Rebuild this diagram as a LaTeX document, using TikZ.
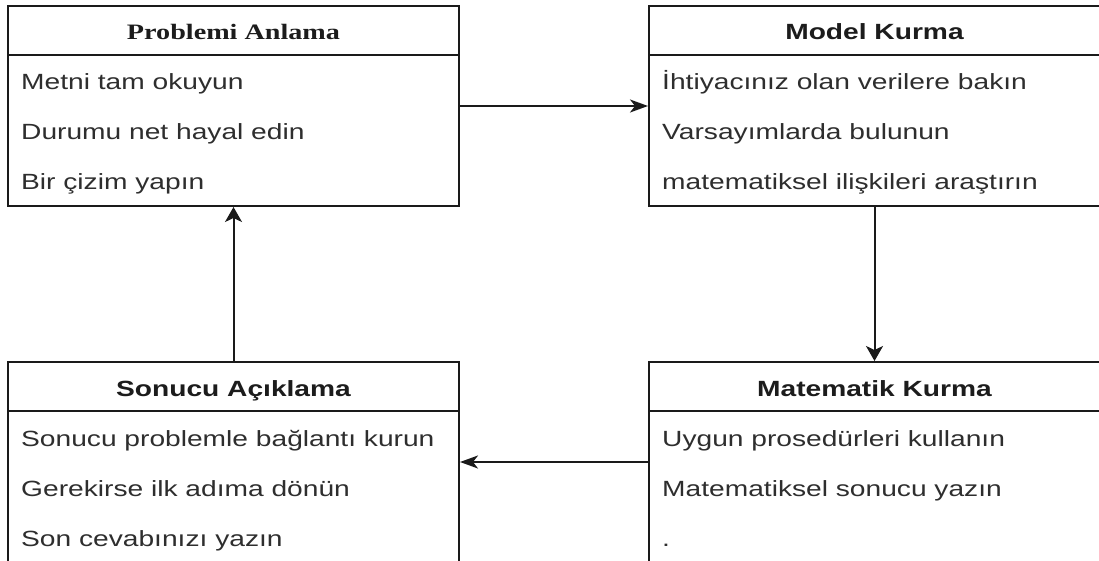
\documentclass[tikz,border=0pt]{standalone}
\usepackage{fontspec}
\setmainfont[FakeStretch=1.28]{Liberation Sans}
\newfontfamily\headserif[FakeStretch=1.28]{Liberation Serif}
\usetikzlibrary{arrows.meta}
\definecolor{linec}{HTML}{1A1A1A}
\definecolor{headc}{HTML}{1C1C1C}
\definecolor{itemc}{HTML}{2E2E2E}
\tikzset{
  panel/.style={draw=linec, line width=2pt, minimum width=451pt, minimum height=200pt,
    inner sep=0pt, fill=white},
  head/.style={anchor=base, font=\fontsize{22}{26}\selectfont\bfseries, text=headc, inner sep=0pt},
  item/.style={anchor=base west, font=\fontsize{22}{26}\selectfont, text=itemc, inner sep=0pt},
  divider/.style={draw=linec, line width=2pt},
  link/.style={draw=linec, line width=2pt},
  harrow/.style={link, -{Stealth[length=18pt, width=13pt, inset=5pt]}},
  varrow/.style={link, -{Stealth[length=15pt, width=17pt, inset=4pt]}},
}
\begin{document}
\begin{tikzpicture}[x=1pt, y=-1pt]
  \useasboundingbox (0,0) rectangle (1099,561);
  \clip (0,0) rectangle (1099,561);

  % the four step panels
  \node[panel] (pa)  at (233.5,106) {};
  \node[panel] (mk)  at (874.5,106) {};
  \node[panel] (sa)  at (233.5,462) {};
  \node[panel] (mat) at (874.5,462) {};

  % header separators
  \foreach \p in {pa, mk, sa, mat}
    \draw[divider] ([yshift=-50pt]\p.north west) -- ([yshift=-50pt]\p.north east);

  % headers
  \node[head, font=\fontsize{22}{26}\selectfont\headserif\bfseries] (paH) at ([yshift=-35pt]pa.north) {Problemi Anlama};
  \node[head] (mkH)  at ([yshift=-35pt]mk.north)  {Model Kurma};
  \node[head] (saH)  at ([yshift=-35pt]sa.north)  {Sonucu Açıklama};
  \node[head] (matH) at ([yshift=-35pt]mat.north) {Matematik Kurma};

  % items
  \node[item] (pa1) at ([xshift=14pt, yshift=-85pt]pa.north west)  {Metni tam okuyun};
  \node[item] (pa2) at ([xshift=14pt, yshift=-135pt]pa.north west) {Durumu net hayal edin};
  \node[item] (pa3) at ([xshift=14pt, yshift=-185pt]pa.north west) {Bir çizim yapın};

  \node[item] (mk1) at ([xshift=14pt, yshift=-85pt]mk.north west)  {İhtiyacınız olan verilere bakın};
  \node[item] (mk2) at ([xshift=14pt, yshift=-135pt]mk.north west) {Varsayımlarda bulunun};
  \node[item] (mk3) at ([xshift=14pt, yshift=-185pt]mk.north west) {matematiksel ilişkileri araştırın};

  \node[item] (sa1) at ([xshift=14pt, yshift=-85pt]sa.north west)  {Sonucu problemle bağlantı kurun};
  \node[item] (sa2) at ([xshift=14pt, yshift=-135pt]sa.north west) {Gerekirse ilk adıma dönün};
  \node[item] (sa3) at ([xshift=14pt, yshift=-185pt]sa.north west) {Son cevabınızı yazın};

  \node[item] (mat1) at ([xshift=14pt, yshift=-85pt]mat.north west)  {Uygun prosedürleri kullanın};
  \node[item] (mat2) at ([xshift=14pt, yshift=-135pt]mat.north west) {Matematiksel sonucu yazın};
  \node[item] (mat3) at ([xshift=14pt, yshift=-185pt]mat.north west) {.};

  % cycle connectors
  \draw[harrow] (pa.east) -- (mk.west);
  \draw[varrow] (mk.south) -- (mat.north);
  \draw[harrow] (mat.west) -- (sa.east);
  \draw[varrow] (sa.north) -- (pa.south);
\end{tikzpicture}
\end{document}
